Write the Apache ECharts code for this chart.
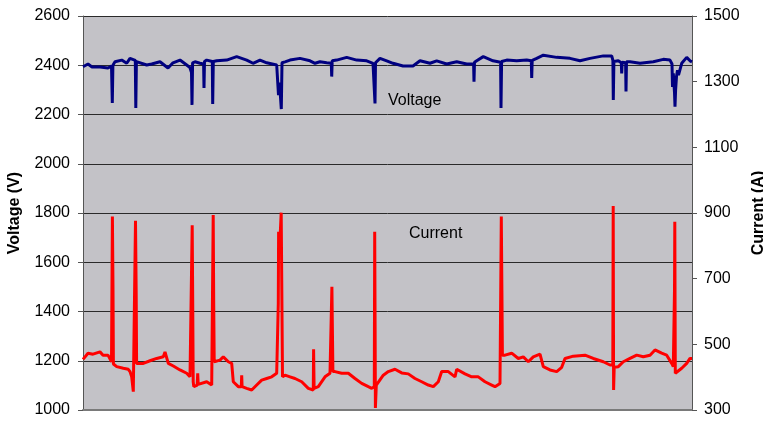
<!DOCTYPE html>
<html>
<head>
<meta charset="utf-8">
<script src="https://cdn.jsdelivr.net/npm/echarts@6/dist/echarts.min.js"></script>
<style>
  html, body { margin: 0; padding: 0; background: #fff; }
  #chart { width: 763px; height: 421px; }
</style>
</head>
<body>
<div id="chart"></div>
<script>
const voltage = [
  [0, 2394], [5, 2405], [9, 2393], [17, 2393], [25, 2389], [28.5, 2397],
  [29.3, 2247], [29.9, 2400], [32, 2414], [38.7, 2421], [43.7, 2408], [47, 2428],
  [52.3, 2420], [52.8, 2226], [53.4, 2415], [55, 2421], [63.7, 2401], [68.7, 2405],
  [77, 2414], [85, 2389], [90, 2410], [97, 2421], [103.7, 2401], [107, 2390],
  [108.5, 2370], [109, 2239], [109.6, 2410], [112, 2414], [117, 2408],
  [120.6, 2405], [121, 2308], [121.5, 2415], [123.7, 2421],
  [129.3, 2415], [129.7, 2243], [130.3, 2415], [133.7, 2418], [143.7, 2421],
  [153.7, 2435], [163.7, 2421], [170, 2408], [177, 2421], [183.7, 2410], [193.7, 2401],
  [195, 2395], [195.5, 2279], [196.5, 2330], [198.3, 2222], [199, 2410],
  [202, 2414], [207, 2421], [217, 2428], [227, 2418], [232, 2408], [237, 2414], [243.7, 2410],
  [248.3, 2408], [248.7, 2354], [249.2, 2418], [253.7, 2421], [263.7, 2432],
  [273.7, 2421], [283.7, 2418], [290, 2408], [291.6, 2400], [292, 2245], [292.5, 2410],
  [297, 2428], [303.7, 2418], [310, 2408], [320, 2397], [330, 2397], [337, 2418],
  [347, 2408], [353.7, 2418], [363.7, 2405], [373.7, 2414], [383.7, 2405],
  [390.6, 2405], [391, 2333], [391.5, 2412], [393.7, 2418], [400.3, 2435], [410, 2418],
  [417.6, 2412], [418, 2226], [418.6, 2415], [423.7, 2421], [433.7, 2418], [443.7, 2421],
  [448.3, 2418], [448.7, 2348], [449.2, 2420], [453.7, 2428], [460.3, 2441],
  [473.7, 2432], [487, 2428], [497, 2418], [507, 2428], [520.3, 2438], [528.7, 2438],
  [529.9, 2420], [530.3, 2259], [530.9, 2415], [535.3, 2418],
  [538.3, 2410], [538.7, 2367], [539.2, 2412], [542.6, 2410], [543, 2293], [543.5, 2414],
  [547, 2414], [557, 2408], [570.3, 2414], [580.3, 2424], [587, 2421],
  [589, 2405], [589.5, 2312], [590.3, 2367], [591.5, 2290], [592, 2232], [592.6, 2300],
  [593.5, 2354], [594.5, 2380], [595.5, 2360], [598.7, 2408], [603.7, 2432],
  [607, 2418], [609, 2414]
];

const current = [
  [0, 454], [5, 473], [10, 470], [17, 477], [20, 467], [25, 467], [28.5, 447],
  [29, 450], [29.4, 889], [30, 671], [30.4, 440], [33.7, 432], [40.3, 427], [45.3, 424],
  [47, 417], [48.7, 401], [50.3, 356], [52, 356], [52.5, 876], [53.2, 650], [53.6, 442],
  [55.3, 442], [60.3, 442], [67, 450], [73.7, 457], [80.3, 462], [82, 477], [85.3, 442],
  [90.3, 434], [97, 422], [103.7, 412], [107, 401],
  [108.8, 401], [109.2, 863], [109.7, 635], [110.2, 386], [110.8, 371],
  [114.2, 376], [114.7, 412], [115.2, 378], [117, 376], [123.7, 386], [128.7, 376],
  [129.8, 376], [130.2, 894], [130.7, 630], [131.2, 447], [132, 447], [137, 452],
  [140.3, 462], [145.3, 447], [148.7, 442], [150.3, 386], [155.3, 371],
  [158.3, 371], [158.7, 406], [159.1, 371], [163.7, 366], [168.7, 361], [173.7, 376],
  [178.7, 391], [183.7, 396], [188.7, 401], [193.7, 412],
  [195, 412], [195.3, 626], [195.6, 843], [197, 820], [198.2, 901], [198.8, 901], [199.5, 401],
  [200.3, 396], [202, 406], [207, 401], [212, 396], [218.7, 386], [225.3, 366], [230.3, 361],
  [230.6, 485], [231.1, 366], [235.3, 371], [242, 401], [247, 412],
  [248.5, 412], [248.9, 675], [249.4, 544], [249.9, 417], [252, 417], [258.7, 412],
  [265.3, 412], [272, 396], [278.7, 381], [285.3, 371], [288.7, 366],
  [291.3, 371], [291.7, 843], [292.1, 560], [292.4, 306], [293.3, 376],
  [295.3, 381], [300.3, 406], [305.3, 417], [312, 424], [318.7, 413], [325.3, 410],
  [332, 396], [338.7, 386], [345.3, 376], [350.3, 371], [355.3, 386], [358.7, 417],
  [365.3, 417], [372, 401], [373.7, 424], [382, 410], [388.7, 401], [395.3, 401],
  [402, 386], [408.7, 376], [412, 371], [417, 381],
  [418, 381], [418.3, 889], [418.9, 665], [419.4, 467], [422, 467], [428.7, 473],
  [435.3, 457], [440.3, 462], [445.3, 447], [450.3, 462], [457, 470], [460.3, 432],
  [467, 422], [473.7, 417], [478.7, 430], [482, 457], [490.3, 464], [502, 467],
  [510.3, 457], [520.3, 447], [527, 437],
  [529.8, 437], [530.2, 921], [530.6, 361], [531.2, 430], [535.3, 432], [540.3, 447],
  [547, 457], [553.7, 467], [560.3, 462], [567, 467], [572, 483], [578.7, 473],
  [583.7, 467], [588.7, 442], [590.3, 432],
  [591.2, 432], [591.5, 665], [591.8, 873], [592.3, 412], [593.7, 412], [598.7, 427],
  [603.7, 442], [607, 457], [609, 457]
];

const voltageTicks = { min: 1000, max: 2600, step: 200 };
const currentTicks = { min: 300, max: 1500, step: 200 };

const chart = echarts.init(document.getElementById('chart'));
const font = 'Liberation Sans, Arial, sans-serif';

chart.setOption({
  animation: false,
  backgroundColor: '#ffffff',
  grid: {
    left: 83, right: 71, top: 16, bottom: 11,
    outerBoundsMode: 'none', containLabel: false,
    show: true, backgroundColor: '#c3c2c7', borderWidth: 0
  },
  xAxis: {
    type: 'value', min: 0, max: 609,
    axisLine: { show: true, onZero: false, lineStyle: { color: '#7a7a7a', width: 2 } },
    axisTick: { show: false },
    axisLabel: { show: false },
    splitLine: { show: false }
  },
  yAxis: [
    {
      type: 'value', position: 'left',
      min: voltageTicks.min, max: voltageTicks.max, interval: voltageTicks.step,
      name: 'Voltage (V)', nameLocation: 'middle', nameGap: 60, nameRotate: 90,
      nameTextStyle: { fontFamily: font, fontSize: 16, fontWeight: 'bold', color: '#000' },
      axisLine: { show: true, lineStyle: { color: '#555', width: 1 } },
      axisTick: { show: true, length: 5, lineStyle: { color: '#555' } },
      axisLabel: { margin: 13, fontFamily: font, fontSize: 16, color: '#000', formatter: v => String(v) },
      splitLine: { show: true, lineStyle: { color: '#2a2a2a', width: 1 } }
    },
    {
      type: 'value', position: 'right',
      min: currentTicks.min, max: currentTicks.max, interval: currentTicks.step,
      name: 'Current (A)', nameLocation: 'middle', nameGap: 57, nameRotate: 90,
      nameTextStyle: { fontFamily: font, fontSize: 16, fontWeight: 'bold', color: '#000' },
      axisLine: { show: true, lineStyle: { color: '#555', width: 1 } },
      axisTick: { show: true, length: 5, lineStyle: { color: '#555' } },
      axisLabel: { margin: 12, fontFamily: font, fontSize: 16, color: '#000', formatter: v => String(v) },
      splitLine: { show: false }
    }
  ],
  graphic: [
    { type: 'text', left: 388, top: 93, style: { text: 'Voltage', font: '16px ' + font, fill: '#000' } },
    { type: 'text', left: 409, top: 226, style: { text: 'Current', font: '16px ' + font, fill: '#000' } }
  ],
  series: [
    {
      name: 'Voltage', type: 'line', yAxisIndex: 0, data: voltage,
      showSymbol: false, lineStyle: { color: '#000080', width: 3 }
    },
    {
      name: 'Current', type: 'line', yAxisIndex: 1, data: current,
      showSymbol: false, lineStyle: { color: '#ff0000', width: 3 }
    }
  ]
});
</script>
</body>
</html>
